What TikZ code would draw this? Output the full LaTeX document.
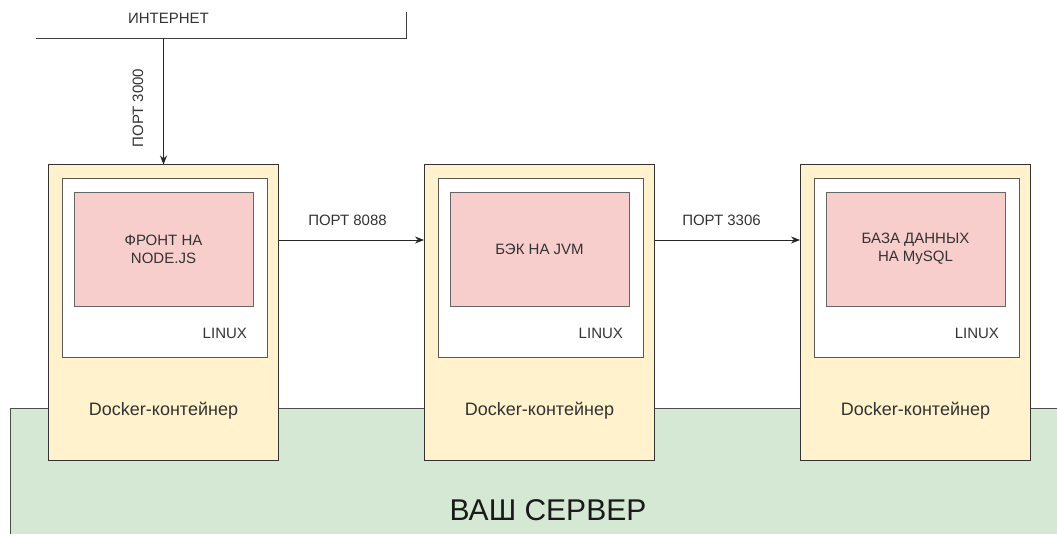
\documentclass[tikz,border=0pt]{standalone}
\usepackage{fontspec}
\setmainfont{Liberation Sans}
\usetikzlibrary{positioning,arrows.meta,calc}
\definecolor{dockfill}{HTML}{FFF2CC}
\definecolor{appfill}{HTML}{F8CECC}
\definecolor{srvfill}{HTML}{D5E8D4}

\begin{document}
\begin{tikzpicture}[x=1pt,y=-1pt,
    dockbox/.style={draw=black!80,fill=dockfill,line width=1pt,minimum width=230pt,minimum height=295pt,inner sep=0pt},
    osbox/.style={draw=black!65,fill=white,line width=0.9pt,minimum width=205pt,minimum height=179pt,inner sep=0pt},
    appbox/.style={draw=black!60,fill=appfill,line width=0.8pt,minimum width=179pt,minimum height=114pt,inner sep=0pt,align=center,text=black!80,font=\fontsize{15}{18}\selectfont},
    lbl/.style={font=\fontsize{15}{18}\selectfont,text=black!80},
    port/.style={-{Stealth[length=9pt,width=7pt]},line width=0.8pt,black!85}]
        \clip (0,0) rectangle (1057,534);
        % server
        \draw[fill=srvfill,draw=black!70,line width=0.9pt] (10,408) rectangle (1080,560);
        \node[font=\fontsize{30}{34}\selectfont,text=black!90] (server) at (548,510) {ВАШ СЕРВЕР};
        % internet
        \coordinate (netL) at (36,38);
        \coordinate (netR) at (406,38);
        \coordinate (netT) at (406,12);
        \draw[black!75,line width=0.9pt] (netL) -- (netR) -- (netT);
        \node[lbl] (net) at (168.5,18) {ИНТЕРНЕТ};
        % containers
        \foreach \i/\x/\app in {1/163.5/{ФРОНТ НА\\NODE.JS}, 2/539.5/{БЭК НА JVM}, 3/915.5/{БАЗА ДАННЫХ\\НА MySQL}} {
            \node[dockbox] (dock\i) at (\x,312.5) {};
            \node[osbox] (os\i) at (\x+1,267.5) {};
            \node[appbox] (app\i) at (\x,249) {\app};
            \node[lbl,anchor=east] (linux\i) at ([xshift=-17pt,yshift=24pt]os\i.south east) {LINUX};
            \node[lbl,font=\fontsize{18}{21}\selectfont] (dlbl\i) at ([yshift=50pt]dock\i.south) {Docker-контейнер};
        }
        % ports
        \draw[port] (netL -| dock1.north) -- (dock1.north);
        \node[lbl,rotate=90] (p3000) at (138,108) {ПОРТ 3000};
        \draw[port] ([yshift=72.5pt]dock1.east) -- ([yshift=72.5pt]dock2.west) node[lbl,midway,yshift=20pt,xshift=-4pt] (p8088) {ПОРТ 8088};
        \draw[port] ([yshift=72.5pt]dock2.east) -- ([yshift=72.5pt]dock3.west) node[lbl,midway,yshift=20pt,xshift=-6pt] (p3306) {ПОРТ 3306};
    \end{tikzpicture}
\end{document}
